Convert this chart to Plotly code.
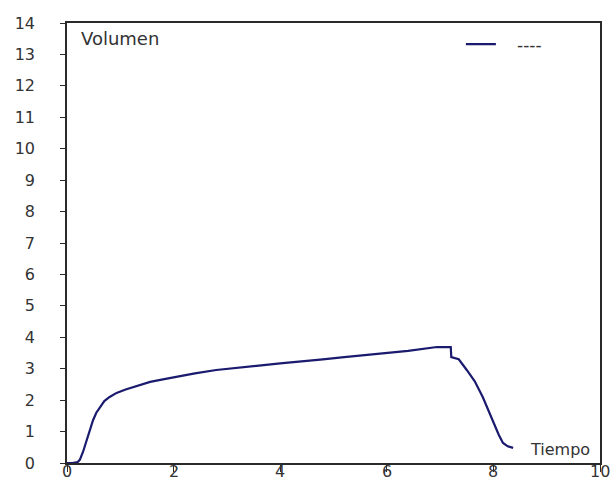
import plotly.graph_objects as go

tiempo = [0.0, 0.1, 0.2, 0.24, 0.3, 0.37, 0.43, 0.49, 0.55, 0.62, 0.7, 0.8, 0.93, 1.1, 1.25, 1.4, 1.56, 1.8, 2.03, 2.4, 2.8, 3.2, 3.6, 4.0, 4.37, 4.8, 5.2, 5.6, 6.0, 6.4, 6.94, 7.2, 7.21, 7.35, 7.5, 7.65, 7.8, 7.9, 8.0, 8.1, 8.18, 8.27, 8.37]
volumen = [0.0, 0.0, 0.03, 0.1, 0.35, 0.73, 1.05, 1.37, 1.6, 1.78, 1.97, 2.1, 2.23, 2.34, 2.42, 2.5, 2.58, 2.66, 2.74, 2.85, 2.96, 3.04, 3.1, 3.17, 3.22, 3.3, 3.37, 3.44, 3.5, 3.57, 3.69, 3.69, 3.37, 3.3, 2.96, 2.6, 2.1, 1.7, 1.27, 0.9, 0.64, 0.53, 0.48]

x_ticks = [0, 2, 4, 6, 8, 10]
x_tick_labels = ["0", "2", "4", "6", "8", "10"]
y_ticks = list(range(0, 15))

FONT = "DejaVu Sans"

fig = go.Figure()
fig.add_trace(go.Scatter(x=tiempo, y=volumen, mode="lines", name="\u00a0\u00a0\u00a0----",
                         line=dict(color="#1a1a6e", width=2.2)))

axis_common = dict(showgrid=False, zeroline=False, showline=True, linecolor="#2a2a2a",
                   linewidth=1.5, mirror=True, ticks="outside", tickcolor="#2a2a2a",
                   automargin=False,
                   tickfont=dict(family=FONT, size=16, color="#333"))
fig.update_xaxes(range=[0, 10], tickvals=x_ticks, ticklen=7, showticklabels=False, **axis_common)
fig.update_yaxes(range=[0, 14], tickvals=y_ticks, ticklen=5, ticklabelstandoff=22, **axis_common)

# x tick labels sit right against the axis (tick marks run into them), as in the reference
for v, lab in zip(x_ticks, x_tick_labels):
    fig.add_annotation(x=v, y=0, xref="x", yref="y", text=lab, showarrow=False,
                       xanchor="center", yanchor="top", yshift=2, borderpad=0,
                       font=dict(family=FONT, size=16, color="#333"))

fig.add_annotation(x=0.022, y=0.993, xref="paper", yref="paper", text="Volumen",
                   showarrow=False, xanchor="left", yanchor="top",
                   font=dict(family=FONT, size=18, color="#333"))
fig.add_annotation(x=0.985, y=0.005, xref="paper", yref="paper", text="Tiempo",
                   showarrow=False, xanchor="right", yanchor="bottom",
                   font=dict(family=FONT, size=16, color="#333"))

fig.update_layout(width=610, height=479, plot_bgcolor="white", paper_bgcolor="white",
                  margin=dict(l=67, r=10, t=23, b=16),
                  showlegend=True,
                  legend=dict(x=0.739, y=0.992, xanchor="left", yanchor="top",
                              bgcolor="rgba(0,0,0,0)",
                              font=dict(family=FONT, size=17, color="#333")))

fig.write_html("out.html", config={"displayModeBar": False},
               post_script="document.body.style.margin='0';document.body.style.overflow='hidden';")
